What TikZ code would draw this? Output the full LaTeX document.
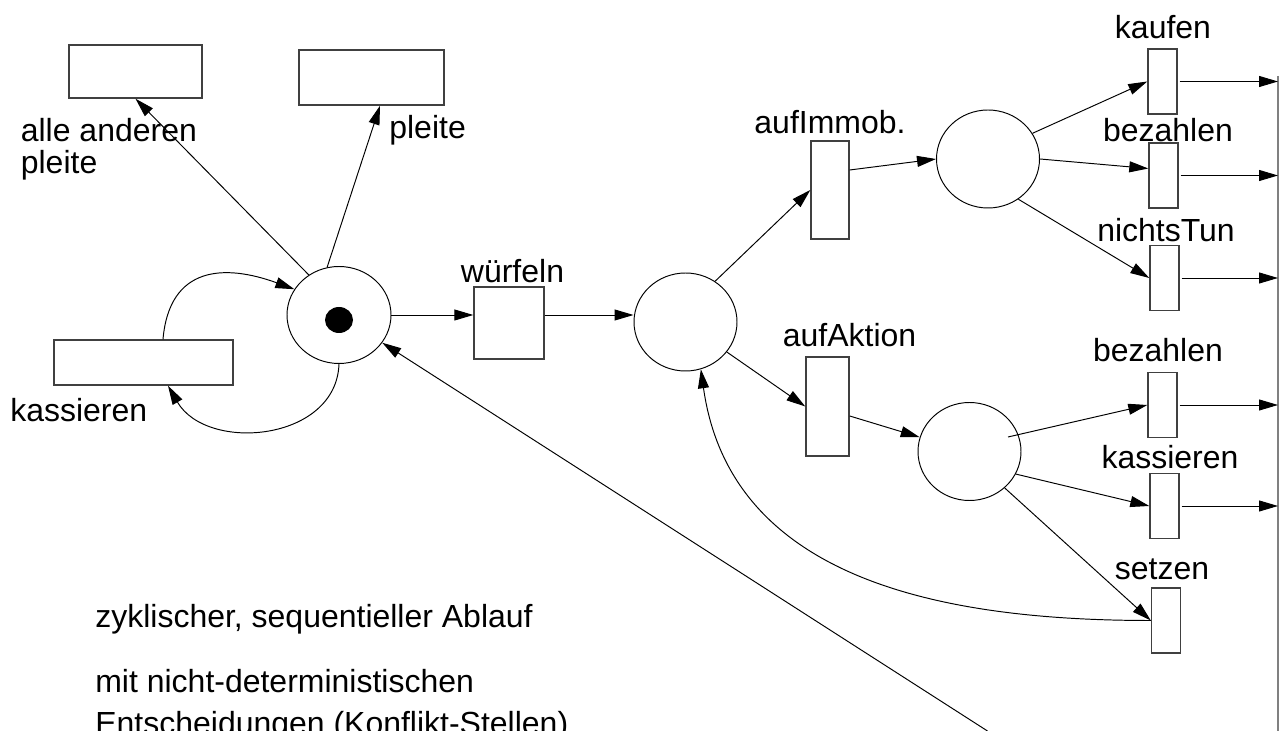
\documentclass[tikz,border=0pt]{standalone}
\usepackage{fontspec}
\setmainfont{Liberation Sans}
\usetikzlibrary{shapes.geometric, arrows.meta, calc}

\tikzset{
  stelle/.style={ellipse, draw, line width=0.55pt, minimum width=2.06cm, minimum height=1.96cm, inner sep=0pt},
  trans/.style={rectangle, draw=black!75, line width=0.8pt, inner sep=0pt},
  schmal/.style={trans, minimum width=0.58cm, minimum height=1.30cm},
  kante/.style={-{Triangle[length=0.38cm, width=0.22cm]}, line width=0.55pt},
  beschr/.style={font=\fontsize{18.2}{18.2}\selectfont, inner sep=0pt}
}

\begin{document}
\begin{tikzpicture}
  \useasboundingbox (0,0) rectangle (25.74,-14.62);
  % Stellen
  \node[stelle, minimum width=2.08cm, minimum height=1.94cm] (start) at (6.78,-6.30) {};
  \node[ellipse, fill, minimum width=0.56cm, minimum height=0.52cm, inner sep=0pt] (marke) at (6.78,-6.40) {};
  \node[stelle] (wahl) at (13.71,-6.44) {};
  \node[stelle] (immo) at (19.76,-3.18) {};
  \node[stelle] (aktion) at (19.39,-9.03) {};
  % Transitionen
  \node[trans, minimum width=2.66cm, minimum height=1.06cm] (ander) at (2.71,-1.43) {};
  \node[trans, minimum width=2.90cm, minimum height=1.10cm] (pleite) at (7.43,-1.55) {};
  \node[trans, minimum width=3.58cm, minimum height=0.90cm] (kass) at (2.87,-7.25) {};
  \node[trans, minimum width=1.40cm, minimum height=1.44cm] (wuerf) at (10.18,-6.46) {};
  \node[trans, minimum width=0.76cm, minimum height=1.96cm] (aufimmo) at (16.60,-3.80) {};
  \node[trans, minimum width=0.86cm, minimum height=1.98cm] (aufakt) at (16.55,-8.13) {};
  \node[schmal] (kauf) at (23.25,-1.63) {};
  \node[schmal] (bez) at (23.27,-3.51) {};
  \node[schmal] (nichts) at (23.29,-5.56) {};
  \node[schmal] (bezb) at (23.25,-8.10) {};
  \node[schmal] (kassb) at (23.29,-10.12) {};
  \node[schmal] (setz) at (23.32,-12.41) {};
  % Beschriftungen
  \node[beschr, anchor=base west, align=left] (lander) at (0.41,-3.47) {alle anderen\\pleite};
  \node[beschr, anchor=base west] (lpleite) at (7.78,-2.77) {pleite};
  \node[beschr, anchor=base west] (lkass) at (0.20,-8.44) {kassieren};
  \node[beschr, anchor=base] (lwuerf) at (10.25,-5.66) {würfeln};
  \node[beschr, anchor=base] (laufimmo) at (16.60,-2.68) {aufImmob.};
  \node[beschr, anchor=base] (laufakt) at (16.99,-6.94) {aufAktion};
  \node[beschr, anchor=base] (lkauf) at (23.26,-0.77) {kaufen};
  \node[beschr, anchor=base] (lbez) at (23.36,-2.84) {bezahlen};
  \node[beschr, anchor=base] (lnichts) at (23.32,-4.84) {nichtsTun};
  \node[beschr, anchor=base] (lbezb) at (23.16,-7.24) {bezahlen};
  \node[beschr, anchor=base] (lkassb) at (23.40,-9.38) {kassieren};
  \node[beschr, anchor=base] (lsetz) at (23.24,-11.60) {setzen};
  \node[beschr, anchor=base west] (lzykl) at (1.90,-12.56) {zyklischer, sequentieller Ablauf};
  \node[beschr, anchor=base west, align=left, font=\fontsize{18.2}{24.4}\selectfont] (lmit) at (1.90,-14.70) {mit nicht-deterministischen\\Entscheidungen (Konflikt-Stellen)};
  % freie Enden
  \coordinate (schiene) at (25.56,-1.52);
  \coordinate (schieneunten) at (25.56,-14.62);
  \coordinate (rueck) at (19.75,-14.62);
  \coordinate (aktinnen) at ($(aktion.center)+(0.77,0.29)$);
  % Kanten links
  \draw[kante] (start.127) -- (ander.south);
  \draw[kante] (start.104) -- ([xshift=0.17cm]pleite.south);
  \draw[kante] ([xshift=0.39cm]kass.north) to[out=85, in=160, looseness=1.35] (start.150);
  \draw[kante] (start.south) to[out=-92, in=-60, looseness=1.15] ([xshift=0.49cm]kass.south);
  \draw[kante] (start.east) -- (start.east -| wuerf.west);
  \draw[kante] (start.east -| wuerf.east) -- (start.east -| wahl.west);
  \draw[kante] (rueck) -- (start);
  % Kanten Mitte
  \draw[kante] (wahl.54) -- (aufimmo.west);
  \draw[kante] (wahl.-36) -- (aufakt.west);
  \draw[kante] ([yshift=0.4cm]aufimmo.east) -- (immo.west);
  \draw[kante] ([yshift=-0.19cm]aufakt.east) -- (aktion.164);
  \draw[kante] (setz.west) to[out=180, in=-82, looseness=1.05] (wahl.-72);
  % Kanten rechts
  \draw[kante] (immo.30) -- (kauf.west);
  \draw[kante] (immo.east) -- ([yshift=0.14cm]bez.west);
  \draw[kante] (immo.-53) -- (nichts.west);
  \draw[kante] (aktinnen) -- (bezb.west);
  \draw[kante] (aktion.-26) -- (kassb.west);
  \draw[kante] (aktion.-46) -- (setz.west);
  % Ausgaenge zur Schiene
  \draw[line width=1pt, gray] (schiene) -- (schieneunten);
  \draw[kante] ([xshift=0.04cm]kauf.east) -- (kauf.east -| schiene);
  \draw[kante] ([xshift=0.04cm]bez.east) -- (bez.east -| schiene);
  \draw[kante] ([xshift=0.04cm]nichts.east) -- (nichts.east -| schiene);
  \draw[kante] ([xshift=0.04cm]bezb.east) -- (bezb.east -| schiene);
  \draw[kante] ([xshift=0.04cm]kassb.east) -- (kassb.east -| schiene);
\end{tikzpicture}
\end{document}
